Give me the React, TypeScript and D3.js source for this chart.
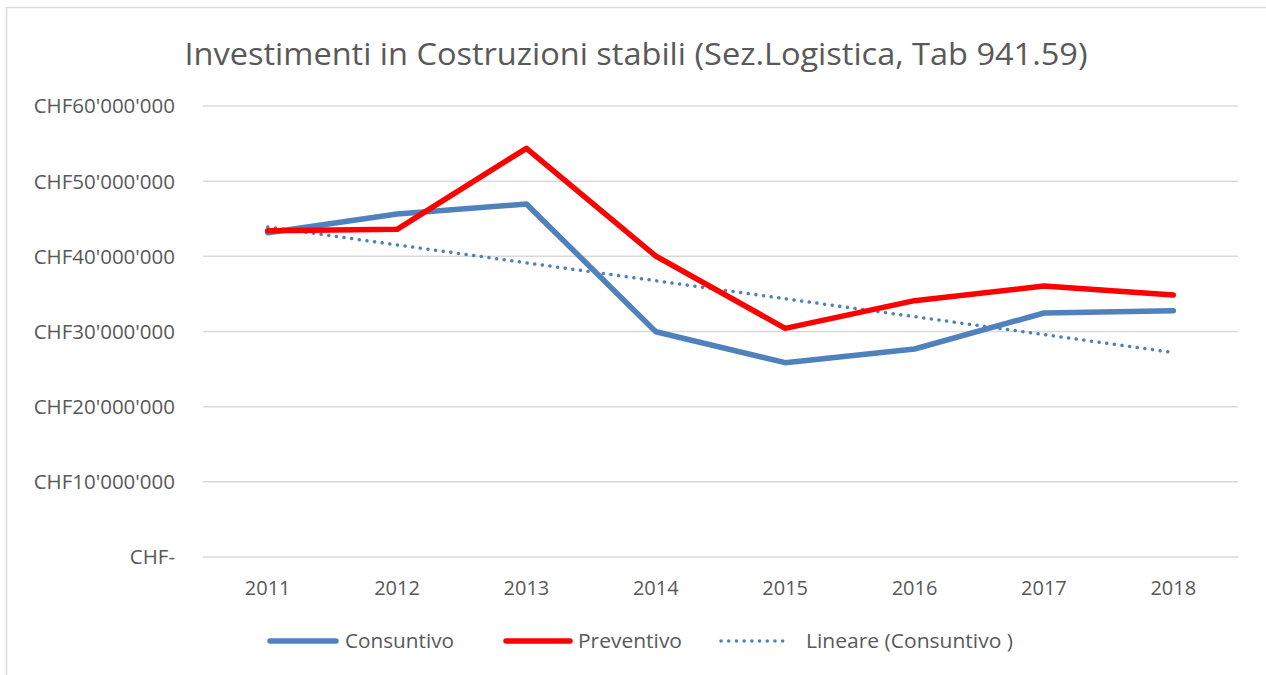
import React, { useEffect, useRef } from "react";
import * as d3 from "d3";

const years = ["2011", "2012", "2013", "2014", "2015", "2016", "2017", "2018"];
const consuntivo = [43.14, 45.63, 46.96, 29.97, 25.85, 27.67, 32.46, 32.77];
const preventivo = [43.41, 43.59, 54.37, 40.04, 30.42, 34.1, 36.05, 34.85];
const yTicks = [0, 10, 20, 30, 40, 50, 60];
const legendLabels = ["Consuntivo", "Preventivo", "Lineare (Consuntivo )"];

const title = "Investimenti in Costruzioni stabili (Sez.Logistica, Tab 941.59)";

const BLUE = "#4f81bd";
const RED = "#ff0000";
const TEXT = "#595959";
const GRID = "#d9d9d9";

function formatChf(v: number) {
  if (v === 0) return "CHF-";
  const n = d3.format(",")(v * 1e6).replace(/,/g, "'");
  return "CHF" + n;
}

export default function App() {
  const svgRef = useRef<SVGSVGElement | null>(null);
  const width = 1266;
  const height = 675;
  const margin = { top: 106, right: 28, bottom: 118, left: 203 };

  useEffect(() => {
    const svg = d3.select(svgRef.current);
    svg.selectAll("*").remove();
    const font = "'Open Sans', sans-serif";

    // outer chart border (cut off at right and bottom)
    svg
      .append("rect")
      .attr("x", 6.5)
      .attr("y", 7.5)
      .attr("width", 1400)
      .attr("height", 1000)
      .attr("fill", "white")
      .attr("stroke", GRID)
      .attr("stroke-width", 1.5);

    const x = d3
      .scaleBand()
      .domain(years)
      .range([margin.left, width - margin.right]);
    const y = d3
      .scaleLinear()
      .domain([0, 60])
      .range([height - margin.bottom, margin.top]);
    const cx = (i: number) => (x(years[i]) as number) + x.bandwidth() / 2;

    svg
      .append("text")
      .attr("x", 636)
      .attr("y", 65)
      .attr("text-anchor", "middle")
      .attr("font-family", font)
      .attr("font-size", 30.5)
      .attr("fill", TEXT)
      .attr("textLength", 903)
      .attr("lengthAdjust", "spacingAndGlyphs")
      .text(title);

    const grid = svg.append("g");
    yTicks.forEach((t) => {
      grid
        .append("line")
        .attr("x1", margin.left)
        .attr("x2", width - margin.right)
        .attr("y1", y(t))
        .attr("y2", y(t))
        .attr("stroke", GRID)
        .attr("stroke-width", 1.5);
      grid
        .append("text")
        .attr("x", 175)
        .attr("y", y(t))
        .attr("dy", "0.36em")
        .attr("text-anchor", "end")
        .attr("font-family", font)
        .attr("font-size", 20.5)
        .attr("fill", TEXT)
        .text(formatChf(t));
    });

    years.forEach((yr, i) => {
      svg
        .append("text")
        .attr("x", cx(i))
        .attr("y", y(0) + 38)
        .attr("text-anchor", "middle")
        .attr("font-family", font)
        .attr("font-size", 20)
        .attr("fill", TEXT)
        .text(yr);
    });

    // linear trend of consuntivo (least squares)
    const xs = consuntivo.map((_, i) => i + 1);
    const mx = d3.mean(xs) as number;
    const my = d3.mean(consuntivo) as number;
    const slope =
      d3.sum(xs, (xi, i) => (xi - mx) * (consuntivo[i] - my)) /
      d3.sum(xs, (xi) => (xi - mx) ** 2);
    const trend = xs.map((xi) => my + slope * (xi - mx));

    const line = d3
      .line<number>()
      .x((_, i) => cx(i))
      .y((d) => y(d));

    svg
      .append("path")
      .attr("d", line(trend))
      .attr("fill", "none")
      .attr("stroke", BLUE)
      .attr("stroke-width", 3.5)
      .attr("stroke-linecap", "round")
      .attr("stroke-dasharray", "0.1 7.6");

    svg
      .append("path")
      .attr("d", line(consuntivo))
      .attr("fill", "none")
      .attr("stroke", BLUE)
      .attr("stroke-width", 5.5)
      .attr("stroke-linejoin", "round")
      .attr("stroke-linecap", "round");

    svg
      .append("path")
      .attr("d", line(preventivo))
      .attr("fill", "none")
      .attr("stroke", RED)
      .attr("stroke-width", 5.5)
      .attr("stroke-linejoin", "round")
      .attr("stroke-linecap", "round");

    // legend
    const ly = 641;
    const items = [
      { x1: 270, x2: 336, tx: 345, tl: 109, color: BLUE, w: 5.5, dash: null },
      { x1: 506, x2: 570, tx: 578, tl: 104, color: RED, w: 5.5, dash: null },
      { x1: 721, x2: 787, tx: 806, tl: 207, color: BLUE, w: 3.5, dash: "0.1 7.6" },
    ];
    items.forEach((it, i) => {
      const ln = svg
        .append("line")
        .attr("x1", it.x1)
        .attr("x2", it.x2)
        .attr("y1", ly)
        .attr("y2", ly)
        .attr("stroke", it.color)
        .attr("stroke-width", it.w)
        .attr("stroke-linecap", "round");
      if (it.dash) ln.attr("stroke-dasharray", it.dash);
      svg
        .append("text")
        .attr("x", it.tx)
        .attr("y", ly)
        .attr("dy", "0.36em")
        .attr("font-family", font)
        .attr("font-size", 20.5)
        .attr("fill", TEXT)
        .attr("textLength", it.tl)
        .attr("lengthAdjust", "spacingAndGlyphs")
        .text(legendLabels[i]);
    });
  }, []);

  return (
    <svg
      ref={svgRef}
      width={width}
      height={height}
      style={{ position: "absolute", left: 0, top: 0, display: "block", background: "white" }}
    />
  );
}
